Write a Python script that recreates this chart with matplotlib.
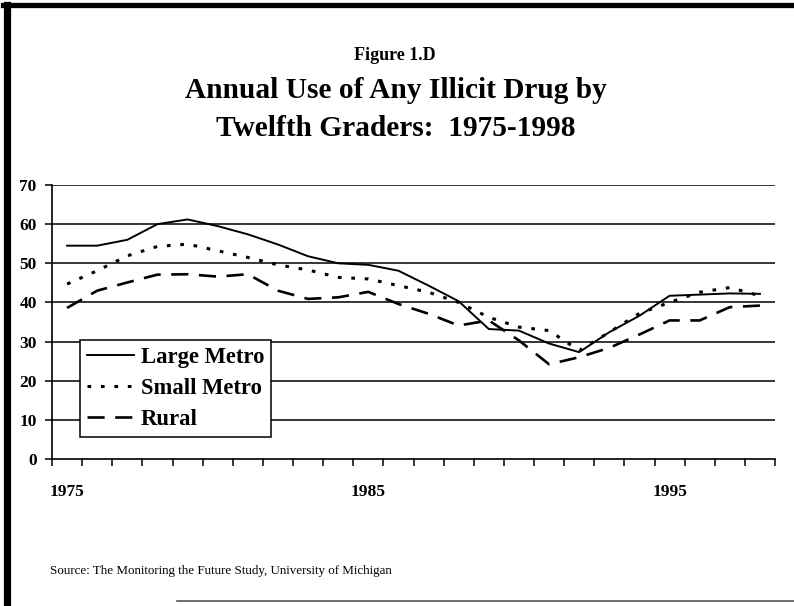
import matplotlib
matplotlib.use("Agg")
import matplotlib.pyplot as plt
from matplotlib.lines import Line2D

plt.rcParams['font.family'] = ['Liberation Serif', 'DejaVu Serif']

# data
years = list(range(1975, 1999))
large_metro = [54.5, 54.5, 56.0, 60.0, 61.2, 59.5, 57.4, 54.8, 51.8, 50.0, 49.6, 48.1,
               44.3, 40.3, 33.2, 32.8, 29.5, 27.3, 32.4, 36.6, 41.7, 42.0, 42.3, 42.2]
small_metro = [44.7, 48.1, 51.9, 54.3, 54.9, 53.2, 51.5, 49.6, 48.3, 46.4, 46.0, 44.3,
               42.6, 40.0, 36.2, 33.7, 32.8, 27.7, 32.4, 37.2, 40.0, 42.6, 43.8, 41.7]
rural = [38.6, 43.0, 45.1, 47.1, 47.2, 46.6, 47.2, 43.0, 40.9, 41.3, 42.7, 39.6,
         37.1, 34.1, 35.4, 30.3, 24.2, 26.0, 28.4, 31.8, 35.4, 35.4, 38.8, 39.2]
series_names = ['Large Metro', 'Small Metro', 'Rural']
year_labels = ['1975', '1985', '1995']
y_ticks = [0, 10, 20, 30, 40, 50, 60, 70]

W, H = 794, 606
fig = plt.figure(figsize=(W / 100, H / 100), dpi=100)

# page frame (thick left / top rules, thin bottom rule)
fig.add_artist(Line2D([6.5 / W, 6.5 / W], [0, 1 - 5 / H], color='black', lw=5.2,
                      transform=fig.transFigure))
fig.add_artist(Line2D([3 / W, 1], [1 - 5 / H, 1 - 5 / H], color='black', lw=3.8,
                      transform=fig.transFigure))
fig.add_artist(Line2D([177 / W, 1], [1 - 601 / H, 1 - 601 / H], color='#555555', lw=1.2,
                      transform=fig.transFigure))

# titles
fig.text(395 / W, 1 - 55 / H, 'Figure 1.D', ha='center', va='center',
         fontsize=13, fontweight='bold')
fig.text(396 / W, 1 - 90 / H, 'Annual Use of Any Illicit Drug by', ha='center',
         va='center', fontsize=21.2, fontweight='bold')
fig.text(396 / W, 1 - 128 / H, 'Twelfth Graders:  1975-1998', ha='center',
         va='center', fontsize=21.2, fontweight='bold')
fig.text(50 / W, 1 - 571 / H, 'Source: The Monitoring the Future Study, University of Michigan',
         ha='left', va='center', fontsize=9.4)

# plot area
ax = fig.add_axes([52 / W, 1 - 459 / H, 723 / W, 274 / H])
x = list(range(len(years)))
ax.plot(x, large_metro, color='black', lw=1.4, label=series_names[0])
ax.plot(x, small_metro, color='black', lw=2.2, dashes=(1.2, 3.2), label=series_names[1])
ax.plot(x, rural, color='black', lw=1.9, dashes=(6.5, 4.0), label=series_names[2])

ax.set_xlim(-0.5, len(years) - 0.5)
ax.set_ylim(0, 70)
ax.set_yticks(y_ticks)
ax.set_yticklabels([str(v) for v in y_ticks], fontsize=12.5, fontweight='bold')
for v in y_ticks[1:]:
    ax.axhline(v, color='black', lw=1.1, zorder=0)

ax.set_xticks([years.index(int(y)) for y in year_labels])
ax.set_xticklabels(year_labels, fontsize=12.5, fontweight='bold')
ax.set_xticks([i - 0.5 for i in range(len(years) + 1)], minor=True)
ax.tick_params(axis='x', which='major', length=0, pad=18)
ax.tick_params(axis='x', which='minor', length=5, width=1.1, direction='out')
ax.tick_params(axis='y', length=5, width=1.1, direction='out', pad=6)

for side in ['top', 'right']:
    ax.spines[side].set_visible(False)
for side in ['left', 'bottom']:
    ax.spines[side].set_linewidth(1.2)

leg = ax.legend(loc='upper left', bbox_to_anchor=(80 / W, 1 - 340 / H),
                bbox_transform=fig.transFigure, fancybox=False, framealpha=1,
                edgecolor='black', borderaxespad=0, borderpad=0.3,
                handlelength=2.1, handletextpad=0.3, labelspacing=0.45,
                prop={'family': 'Liberation Serif', 'weight': 'bold', 'size': 16.3})
leg.get_frame().set_linewidth(1.1)

fig.savefig('out.png', dpi=100)
